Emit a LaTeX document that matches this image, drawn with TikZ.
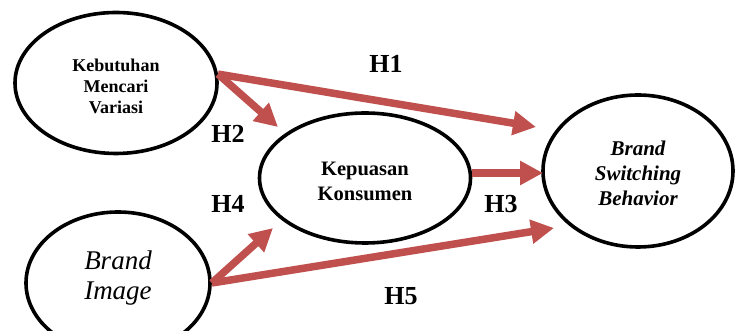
\documentclass[tikz,border=0pt]{standalone}
\usepackage{fontspec}
\setmainfont{Liberation Serif}
\usetikzlibrary{shapes.geometric,arrows.meta}
\definecolor{arrred}{RGB}{192,80,77}
\begin{document}
\begin{tikzpicture}[x=1pt,y=1pt,
  oval/.style={draw=black,line width=3.6pt,ellipse,inner sep=0pt,fill=white},
  txt/.style={inner sep=0pt,align=center},
  rel/.style={draw=arrred,line width=7.5pt,-{Triangle[length=23pt,width=23pt]}},
  hlab/.style={font=\fontsize{26}{30}\selectfont\bfseries,anchor=base}]
\useasboundingbox (0,0) rectangle (738,331);
\node[oval,minimum width=202pt,minimum height=141pt] (k) at (116,248) {};
\node[oval,minimum width=211pt,minimum height=130pt] (p) at (365,153) {};
\node[oval,minimum width=190pt,minimum height=152pt] (b) at (638,160) {};
\node[oval,minimum width=184pt,minimum height=142pt] (i) at (118,48) {};
\node[txt,font=\fontsize{18}{21}\selectfont\bfseries] (kt) at (116,245) {Kebutuhan\\Mencari\\Variasi};
\node[txt,font=\fontsize{20.5}{25}\selectfont\bfseries] (pt) at (365,150) {Kepuasan\\Konsumen};
\node[txt,font=\fontsize{21}{25}\selectfont\bfseries\itshape] (bt) at (638,158) {Brand\\Switching\\Behavior};
\node[txt,font=\fontsize{27}{30}\selectfont\itshape] (it) at (118,53) {Brand\\Image};
\coordinate (t1) at (536,204);
\coordinate (t2) at (278,204);
\coordinate (t3) at (543,158);
\coordinate (t4) at (273,103);
\coordinate (t5) at (554,103);
\draw[rel] (k.5) -- (t1);
\draw[rel] (k.5) -- (t2);
\draw[rel] (p.east |- t3) -- (t3);
\draw[rel] (i.east) -- (t4);
\draw[rel] (i.east) -- (t5);
\node[hlab] (h1) at (386,258) {H1};
\node[hlab] (h2) at (228,188) {H2};
\node[hlab] (h4) at (228,118) {H4};
\node[hlab] (h3) at (501,118) {H3};
\node[hlab] (h5) at (401,26) {H5};
\end{tikzpicture}
\end{document}
